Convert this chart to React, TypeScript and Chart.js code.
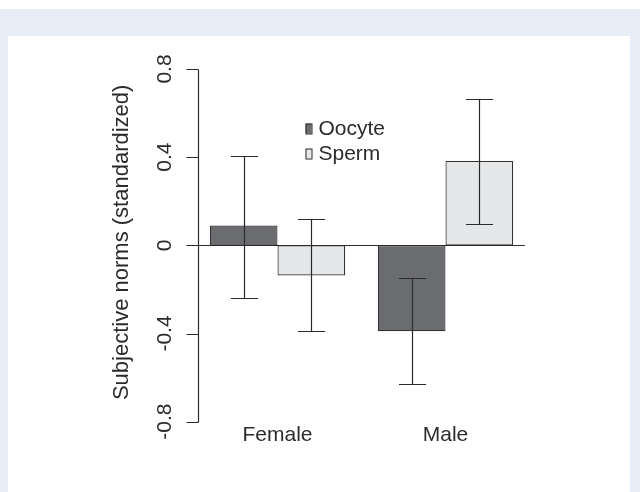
import React, { useEffect, useRef } from "react";
import { Chart, registerables } from "chart.js";

Chart.register(...registerables);

const categories = ["Female", "Male"];
const seriesNames = ["Oocyte", "Sperm"];
const oocyte = [0.09, -0.39];
const sperm = [-0.137, 0.383];
const oocyteLow = [-0.237, -0.631];
const oocyteHigh = [0.407, -0.149];
const spermLow = [-0.389, 0.098];
const spermHigh = [0.12, 0.665];
const yTicks = [-0.8, -0.4, 0, 0.4, 0.8];
const yTickLabels = ["-0.8", "-0.4", "0", "0.4", "0.8"];
const yTitle = "Subjective norms (standardized)";

const FONT = '"Liberation Sans", Arial, Helvetica, sans-serif';
const INK = "#2b2b2b";

const drawPlugin = {
  id: "rstyle",
  afterDatasetsDraw(chart: any) {
    const ctx = chart.ctx;
    const { left, right, bottom } = chart.chartArea;
    const y = chart.scales.y;
    const x = chart.scales.x;
    const axisX = Math.round(left + 4.7) + 0.5;
    const endX = right - 4.7;
    ctx.save();
    ctx.strokeStyle = INK;
    ctx.lineWidth = 1.2;

    // zero line
    const y0 = Math.round(y.getPixelForValue(0)) + 0.5;
    ctx.beginPath();
    ctx.moveTo(axisX, y0);
    ctx.lineTo(endX, y0);
    ctx.stroke();

    // error bars
    chart.data.datasets.forEach((ds: any, i: number) => {
      const meta = chart.getDatasetMeta(i);
      meta.data.forEach((bar: any, j: number) => {
        const cx = Math.round(bar.x) + 0.5;
        const half = bar.width * 0.2;
        const lo = Math.round(y.getPixelForValue(ds.errLow[j])) + 0.5;
        const hi = Math.round(y.getPixelForValue(ds.errHigh[j])) + 0.5;
        ctx.beginPath();
        ctx.moveTo(cx, lo);
        ctx.lineTo(cx, hi);
        ctx.moveTo(cx - half, lo);
        ctx.lineTo(cx + half, lo);
        ctx.moveTo(cx - half, hi);
        ctx.lineTo(cx + half, hi);
        ctx.stroke();
      });
    });

    // y axis
    const yTop = Math.round(y.getPixelForValue(yTicks[yTicks.length - 1])) + 0.5;
    const yBot = Math.round(y.getPixelForValue(yTicks[0])) + 0.5;
    ctx.beginPath();
    ctx.moveTo(axisX, yTop);
    ctx.lineTo(axisX, yBot);
    yTicks.forEach((t) => {
      const py = Math.round(y.getPixelForValue(t)) + 0.5;
      ctx.moveTo(axisX, py);
      ctx.lineTo(axisX - 12, py);
    });
    ctx.stroke();

    ctx.fillStyle = INK;
    ctx.font = `21px ${FONT}`;
    ctx.textAlign = "center";
    ctx.textBaseline = "middle";
    yTicks.forEach((t, k) => {
      const py = y.getPixelForValue(t);
      ctx.save();
      ctx.translate(axisX - 33, py);
      ctx.rotate(-Math.PI / 2);
      ctx.fillText(yTickLabels[k], 0, 0);
      ctx.restore();
    });

    // axis title
    ctx.save();
    ctx.font = `22px ${FONT}`;
    ctx.translate(axisX - 77, y.getPixelForValue(0) - 3);
    ctx.rotate(-Math.PI / 2);
    ctx.fillText(yTitle, 0, 0);
    ctx.restore();

    // category labels
    categories.forEach((c, k) => {
      ctx.fillText(c, x.getPixelForTick(k), bottom + 14);
    });

    // legend
    const lx = left + 112;
    const ly = y.getPixelForValue(0.53);
    chart.data.datasets.forEach((ds: any, i: number) => {
      const cy = ly + i * 25;
      ctx.fillStyle = ds.backgroundColor;
      ctx.fillRect(lx, cy - 5, 6, 10);
      ctx.strokeStyle = INK;
      ctx.lineWidth = 1;
      ctx.strokeRect(lx + 0.5, cy - 5 + 0.5, 6, 10);
      ctx.fillStyle = INK;
      ctx.textAlign = "left";
      ctx.fillText(ds.label, lx + 13, cy + 1);
    });

    ctx.restore();
  },
};

export default function App() {
  const ref = useRef<HTMLCanvasElement>(null);
  useEffect(() => {
    if (!ref.current) return;
    const chart = new Chart(ref.current, {
      type: "bar",
      data: {
        labels: categories,
        datasets: [
          {
            label: seriesNames[0],
            data: oocyte,
            errLow: oocyteLow,
            errHigh: oocyteHigh,
            backgroundColor: "#6b6c70",
            borderColor: "#333333",
            borderWidth: 1.2,
            borderSkipped: false,
          } as any,
          {
            label: seriesNames[1],
            data: sperm,
            errLow: spermLow,
            errHigh: spermHigh,
            backgroundColor: "#e6e7e9",
            borderColor: "#333333",
            borderWidth: 1.2,
            borderSkipped: false,
          } as any,
        ],
      },
      options: {
        animation: false,
        responsive: false,
        devicePixelRatio: 1,
        layout: { padding: { left: 193.5, right: 110.5, top: 69, bottom: 70.3 } },
        datasets: { bar: { categoryPercentage: 0.806, barPercentage: 1 } },
        scales: {
          x: { display: false, offset: true, grid: { display: false } },
          y: { display: false, min: -0.8, max: 0.8 },
        },
        plugins: { legend: { display: false }, tooltip: { enabled: false } },
      },
      plugins: [drawPlugin],
    });
    return () => chart.destroy();
  }, []);

  return (
    <div style={{ position: "absolute", left: 0, top: 0, width: 640, height: 492, background: "#ffffff", overflow: "hidden" }}>
      <div style={{ position: "absolute", left: 0, top: 9, width: 640, height: 483, background: "#e8eef8" }} />
      <div style={{ position: "absolute", left: 8, top: 36, width: 622, height: 456, background: "#ffffff" }} />
      <canvas ref={ref} width={640} height={492} style={{ position: "absolute", left: 0, top: 0 }} />
    </div>
  );
}
